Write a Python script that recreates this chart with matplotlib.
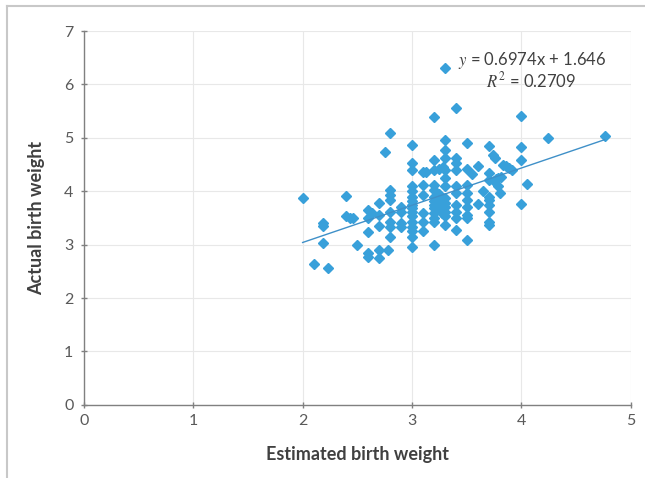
import matplotlib
matplotlib.use("Agg")
import matplotlib.pyplot as plt
from matplotlib.lines import Line2D

# ---- data ----
est = [2.00, 2.10, 2.23, 2.19, 2.19, 2.19,
       2.40, 2.40, 2.43, 2.46, 2.50,
       2.60, 2.63, 2.60, 2.60, 2.60, 2.60,
       2.70, 2.70, 2.70, 2.70, 2.70,
       2.75, 2.80, 2.80, 2.80, 2.80, 2.80, 2.80, 2.80, 2.80, 2.78,
       2.90, 2.90, 2.90, 2.90,
       3.00, 3.00, 3.00, 3.00, 3.00, 3.00, 3.00, 3.00, 3.00, 3.00, 3.00, 3.00, 3.00, 3.00, 3.00, 3.00,
       3.10, 3.13, 3.10, 3.10, 3.10, 3.10, 3.10,
       3.20, 3.20, 3.20, 3.20, 3.20, 3.20, 3.20, 3.20, 3.20, 3.20, 3.20, 3.20, 3.20,
       3.25, 3.28,
       3.30, 3.30, 3.30, 3.30, 3.30, 3.30, 3.30, 3.30, 3.30, 3.30, 3.30, 3.30, 3.30,
       3.25, 3.25, 3.25, 3.27,
       3.40, 3.40, 3.40, 3.40, 3.40, 3.40, 3.40, 3.40, 3.40, 3.40,
       3.50, 3.50, 3.50, 3.50, 3.50, 3.50, 3.50, 3.50, 3.50,
       3.55, 3.60, 3.60, 3.65,
       3.70, 3.74, 3.76, 3.70, 3.70, 3.70, 3.70, 3.70, 3.70, 3.70, 3.70,
       3.75, 3.77, 3.79, 3.81, 3.79, 3.80,
       3.83, 3.86, 3.89, 3.91,
       4.00, 4.00, 4.00, 4.05, 4.00, 4.24, 4.76]
actual = [3.88, 2.64, 2.56, 3.40, 3.35, 3.04,
          3.91, 3.54, 3.50, 3.50, 3.00,
          3.64, 3.60, 3.50, 3.23, 2.85, 2.77,
          3.78, 3.55, 3.35, 2.90, 2.75,
          4.73, 5.09, 4.02, 3.93, 3.84, 3.62, 3.43, 3.34, 3.15, 2.90,
          3.71, 3.62, 3.40, 3.34,
          4.87, 4.53, 4.40, 4.09, 4.00, 3.90, 3.81, 3.75, 3.68, 3.62, 3.53, 3.43, 3.34, 3.25, 3.15, 2.96,
          4.37, 4.37, 4.12, 3.93, 3.60, 3.43, 3.25,
          5.40, 4.59, 4.40, 4.12, 4.03, 3.90, 3.81, 3.75, 3.68, 3.59, 3.50, 3.43, 3.00,
          4.42, 4.45,
          6.31, 4.96, 4.77, 4.62, 4.40, 4.24, 4.09, 3.87, 3.78, 3.71, 3.62, 3.53, 3.37,
          3.95, 3.85, 3.70, 3.60,
          5.56, 4.62, 4.53, 4.40, 4.09, 3.96, 3.75, 3.62, 3.50, 3.28,
          4.91, 4.41, 4.12, 3.96, 3.84, 3.71, 3.56, 3.50, 3.09,
          4.33, 4.48, 3.76, 4.00,
          4.84, 4.68, 4.62, 4.34, 4.21, 3.90, 3.84, 3.75, 3.62, 3.43, 3.37,
          4.20, 4.23, 4.25, 4.27, 4.09, 3.96,
          4.50, 4.47, 4.44, 4.40,
          5.41, 4.82, 4.59, 4.13, 3.76, 4.99, 5.04]

slope = 0.6974
intercept = 1.646
r_squared = 0.2709
x_ticks = [0, 1, 2, 3, 4, 5]
y_ticks = [0, 1, 2, 3, 4, 5, 6, 7]
x_label = "Estimated birth weight"
y_label = "Actual birth weight"

plt.rcParams['font.family'] = ['Lato', 'DejaVu Sans']
plt.rcParams['mathtext.fontset'] = 'stix'

fig = plt.figure(figsize=(6.45, 4.78), dpi=100)
ax = fig.add_axes([0.130, 0.153, 0.848, 0.782])

# outer chart frame (top and left visible)
fig.add_artist(Line2D([7/645, 1.0], [1 - 6/478, 1 - 6/478], transform=fig.transFigure,
                      color='#c8c8c8', lw=1.5))
fig.add_artist(Line2D([7/645, 7/645], [0, 1 - 6/478], transform=fig.transFigure,
                      color='#c8c8c8', lw=1.5))

blue = '#38A0DA'
ax.plot(est, actual, ls='none', marker='D', ms=4.9, color=blue, mec=blue, zorder=3)

xs = [min(est), max(est)]
ax.plot(xs, [slope * v + intercept for v in xs], color='#3F90C8', lw=1.0, zorder=4)

ax.set_xlim(0, 5)
ax.set_ylim(0, 7)
ax.set_xticks(x_ticks)
ax.set_yticks(y_ticks)
ax.grid(True, color='#e8e8e8', lw=0.8, zorder=0)
ax.set_axisbelow(True)
for s in ['top', 'right']:
    ax.spines[s].set_visible(False)
for s in ['left', 'bottom']:
    ax.spines[s].set_color('#808080')
    ax.spines[s].set_linewidth(1.0)
ax.tick_params(axis='both', direction='inout', length=5, width=1.0, color='#808080',
               labelsize=11.5, labelcolor='#595959')
ax.tick_params(axis='y', pad=5)
ax.tick_params(axis='x', pad=4)

ax.set_xlabel(x_label, fontsize=13, fontweight='bold', color='#404040', labelpad=13)
ax.set_ylabel(y_label, fontsize=13, fontweight='bold', color='#404040', labelpad=14)

ax.text(4.10, 6.44, r"$y$" + f" = {slope}x + {intercept}", ha='center', va='center',
        fontsize=12, color='#404040', transform=ax.transData)
ax.text(4.09, 6.07, r"$R^2$" + f" = {r_squared}", ha='center', va='center',
        fontsize=12, color='#404040', transform=ax.transData)

fig.savefig("out.png", dpi=100, facecolor='white')
